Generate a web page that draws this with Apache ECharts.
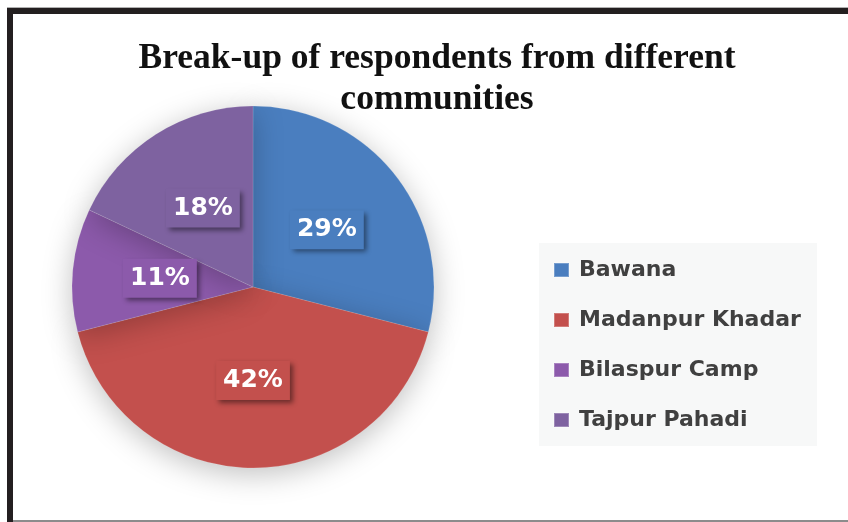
<!DOCTYPE html>
<html>
<head>
<meta charset="utf-8">
<script src="https://cdn.jsdelivr.net/npm/echarts@6/dist/echarts.min.js"></script>
<style>
  html, body { margin: 0; padding: 0; background: #ffffff; }
  #chart { width: 848px; height: 522px; }
</style>
</head>
<body>
<div id="chart"></div>
<script>
// Survey communities and their share of respondents (%)
const communities = ['Bawana', 'Madanpur Khadar', 'Bilaspur Camp', 'Tajpur Pahadi'];
const shares = [29, 42, 11, 18];
const sliceColors = ['#4A7EBF', '#C3504D', '#8C5AAB', '#7E62A0'];
const titleLines = ['Break-up of respondents from different', 'communities'];

const chart = echarts.init(document.getElementById('chart'), null, { renderer: 'canvas' });

const pieData = communities.map((name, i) => ({
  name: name,
  value: shares[i],
  itemStyle: { color: sliceColors[i] }
}));

chart.setOption({
  backgroundColor: '#ffffff',
  animation: false,
  title: {
    text: titleLines.join('\n'),
    left: 432,
    top: 33,
    textAlign: 'center',
    textStyle: {
      fontFamily: 'Liberation Serif',
      fontWeight: 'bold',
      fontSize: 35.5,
      lineHeight: 41,
      color: '#111111'
    }
  },
  graphic: [
    // frame: heavy top and left rules, light bottom rule
    { type: 'rect', shape: { x: 7, y: 7, width: 841, height: 1 }, style: { fill: '#b0b0b0' }, silent: true },
    { type: 'rect', shape: { x: 7, y: 8, width: 841, height: 6 }, style: { fill: '#231f20' }, silent: true },
    { type: 'rect', shape: { x: 7, y: 8, width: 6, height: 514 }, style: { fill: '#231f20' }, silent: true },
    { type: 'rect', shape: { x: 13, y: 520, width: 835, height: 2 }, style: { fill: '#8c8c8c' }, silent: true },
    // legend panel
    { type: 'rect', shape: { x: 539, y: 243, width: 278, height: 203 }, style: { fill: '#f7f8f8' }, silent: true, z: -1 }
  ],
  legend: {
    orient: 'vertical',
    left: 553,
    top: 259,
    padding: 0,
    itemWidth: 15,
    itemHeight: 14,
    itemGap: 28,
    icon: 'rect',
    data: communities,
    textStyle: {
      fontFamily: 'DejaVu Sans',
      fontWeight: 'bold',
      fontSize: 22,
      lineHeight: 21,
      color: '#404040',
      padding: [0, 0, 0, 5]
    }
  },
  series: [{
    type: 'pie',
    center: [253, 287],
    radius: 181,
    startAngle: 90,
    clockwise: true,
    data: pieData,
    itemStyle: {
      borderColor: 'rgba(255,255,255,0.25)',
      borderWidth: 0.5,
      shadowBlur: 30,
      shadowColor: 'rgba(0,0,0,0.25)',
      shadowOffsetY: 6
    },
    label: {
      show: true,
      position: 'inside',
      formatter: '{c}%',
      fontFamily: 'DejaVu Sans',
      fontWeight: 'bold',
      fontSize: 25,
      lineHeight: 28,
      color: '#ffffff',
      backgroundColor: 'auto',
      padding: [6, 7, 5, 7],
      shadowColor: 'rgba(0,0,0,0.45)',
      shadowBlur: 5,
      shadowOffsetX: 3,
      shadowOffsetY: 3
    },
    labelLine: { show: false },
    emphasis: { disabled: true }
  }]
});
</script>
</body>
</html>
